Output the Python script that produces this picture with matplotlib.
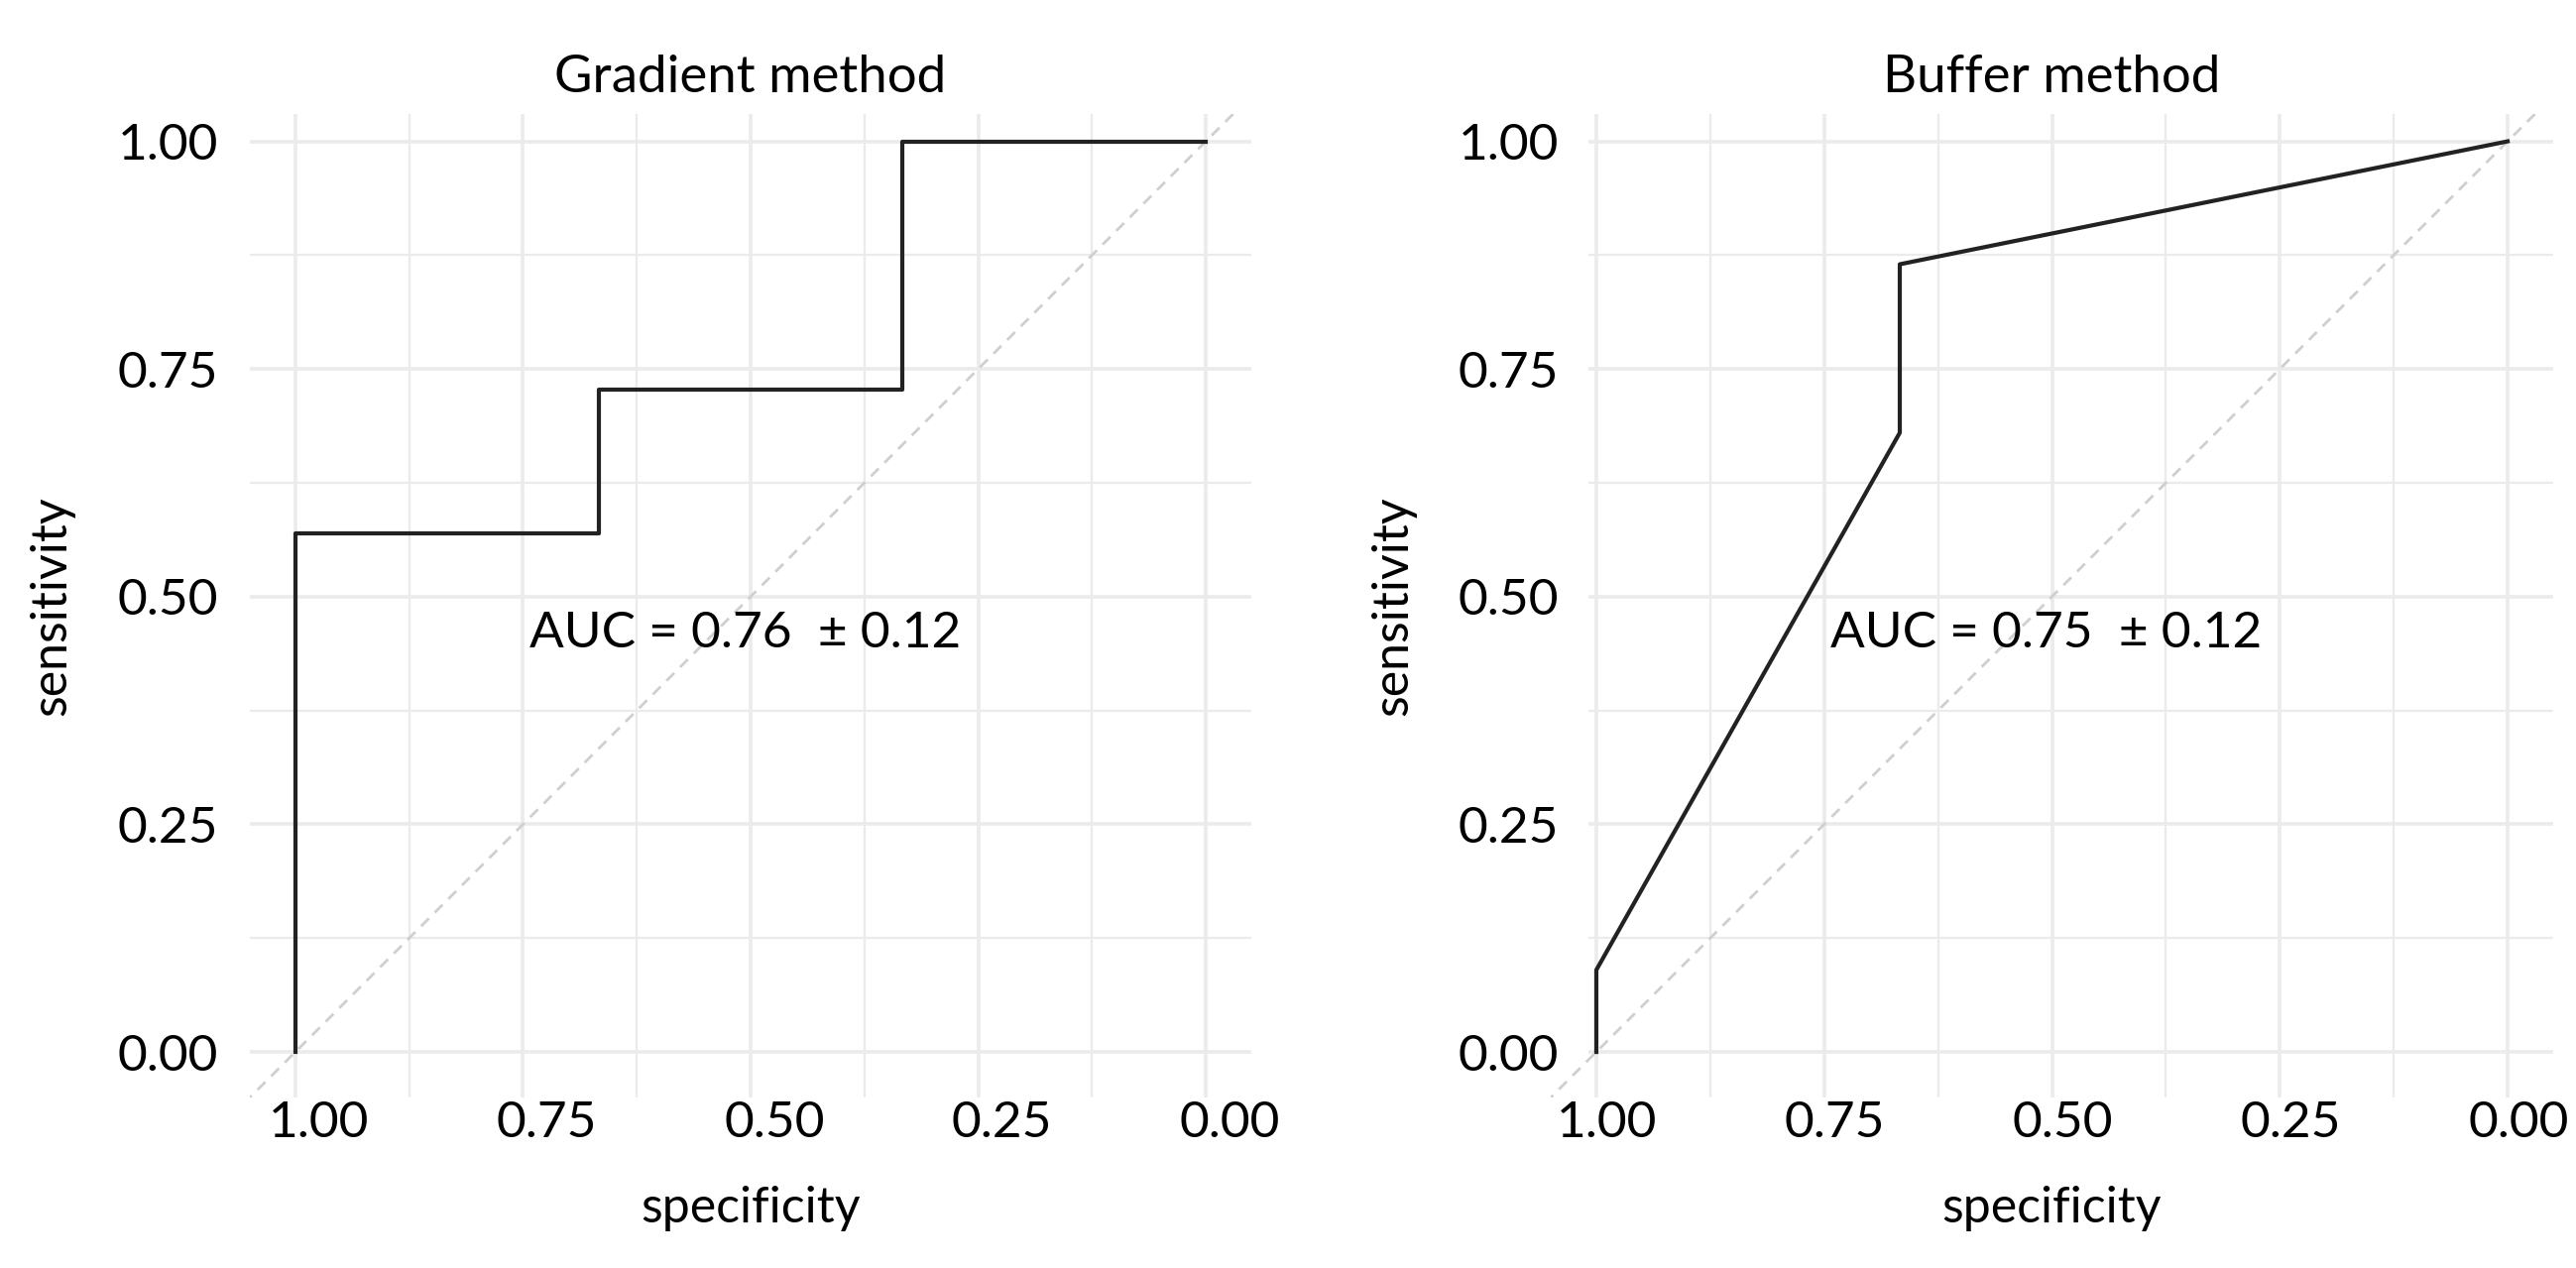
import matplotlib
matplotlib.use('Agg')
import matplotlib.pyplot as plt
import matplotlib.transforms as mtransforms
import numpy as np

plt.rcParams['font.family'] = ['Lato', 'DejaVu Sans']

# ROC curves (x = specificity, y = sensitivity)
gradient_spec = [1.0, 1.0, 0.667, 0.667, 0.333, 0.333, 0.0]
gradient_sens = [0.0, 0.57, 0.57, 0.727, 0.727, 1.0, 1.0]

buffer_spec = [1.0, 1.0, 0.667, 0.667, 0.0]
buffer_sens = [0.0, 0.09, 0.68, 0.865, 1.0]

titles = ['Gradient method', 'Buffer method']
auc_labels = ['AUC = 0.76  \u00b1 0.12', 'AUC = 0.75  \u00b1 0.12']
ticks = [1.0, 0.75, 0.5, 0.25, 0.0]
tick_labels = ['1.00', '0.75', '0.50', '0.25', '0.00']
minor_ticks = [0.875, 0.625, 0.375, 0.125]

DPI = 200
fig = plt.figure(figsize=(2598 / DPI, 1279 / DPI), dpi=DPI)

grid_col = '#ebebeb'
line_col = '#222222'

panels = [
    # axes rect, y tick pad (pt), x tick label shift (px), ylabel x, hgrid start
    ([252 / 2598, 172 / 1279, 1010 / 2598, 992 / 1279], 11.5, 24, -0.175, 1.05),
    ([1564 / 2598, 172 / 1279, 1011 / 2598, 992 / 1279], -3.0, 11, -0.134, 1.009),
]
curves = [(gradient_spec, gradient_sens), (buffer_spec, buffer_sens)]

for (rect, ypad, xshift, ylab_x, hstart), (spec, sens), title, auc in zip(panels, curves, titles, auc_labels):
    ax = fig.add_axes(rect)
    ax.set_xlim(1.05, -0.05)
    ax.set_ylim(-0.05, 1.03)

    ax.set_xticks(ticks)
    ax.set_xticklabels(tick_labels)
    ax.set_yticks(ticks[::-1])
    ax.set_yticklabels(tick_labels[::-1])
    ax.set_xticks(minor_ticks, minor=True)

    # vertical grid from ticks, horizontal grid drawn by hand so it can start
    # where the original one does
    ax.xaxis.grid(True, which='major', color=grid_col, linewidth=1.3)
    ax.xaxis.grid(True, which='minor', color=grid_col, linewidth=0.8)
    ax.hlines(ticks, hstart, -0.05, color=grid_col, linewidth=1.3, zorder=0.5)
    ax.hlines(minor_ticks, hstart, -0.05, color=grid_col, linewidth=0.8, zorder=0.5)
    ax.set_axisbelow(True)
    for s in ax.spines.values():
        s.set_visible(False)

    ax.tick_params(which='both', length=0)
    ax.tick_params(axis='x', labelsize=18.5, pad=1, colors='black')
    ax.tick_params(axis='y', labelsize=18.5, pad=ypad, colors='black')
    off = mtransforms.ScaledTranslation(xshift / DPI, 0, fig.dpi_scale_trans)
    for lab in ax.get_xticklabels():
        lab.set_transform(lab.get_transform() + off)

    # chance line
    ax.axline((1, 0), (0, 1), color='#cfcfcf', linewidth=1.0,
              linestyle=(0, (4, 3)), zorder=1)
    ax.plot(spec, sens, color=line_col, linewidth=1.5, zorder=3)

    ax.text(0.743, 0.46, auc, fontsize=18.5, ha='left', va='center')

    ax.set_title(title, fontsize=19, pad=8)
    ax.set_xlabel('specificity', fontsize=18)
    ax.set_ylabel('sensitivity', fontsize=18)
    ax.xaxis.set_label_coords(0.5, -0.09)
    ax.yaxis.set_label_coords(ylab_x, 0.5)

fig.savefig('out.png', dpi=DPI, facecolor='white')
